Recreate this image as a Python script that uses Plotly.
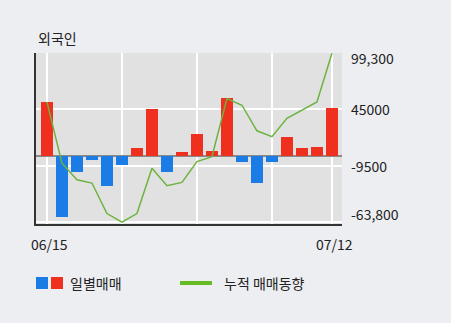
import plotly.graph_objects as go

dates = ["06/15", "06/16", "06/19", "06/20", "06/21", "06/22", "06/23", "06/26", "06/27", "06/28",
         "06/29", "06/30", "07/03", "07/04", "07/05", "07/06", "07/07", "07/10", "07/11", "07/12"]
daily = [52700, -58900, -15200, -4300, -29000, -8200, 7500, 45600, -15600, 3600,
         21600, 5300, 56100, -6000, -26100, -5300, 18700, 8200, 9100, 46900]
cumulative = [52300, -6900, -22900, -26100, -55600, -63800, -55600, -11700, -28700, -25500,
              -5400, -600, 55600, 49100, 24400, 18700, 36400, 44300, 52300, 99300]
y_ticks = [99300, 45000, -9500, -63800]
y_tick_text = ["99,300", "45000", "-9500", "-63,800"]
x_grid = [dates[0], dates[5], dates[10], dates[15], dates[19]]
x_labels = [dates[0], dates[-1]]

W, H = 451, 323
L, R, T, B = 36, 109, 53, 99
PW, PH = W - L - R, H - T - B

def px(x):
    return (x - L) / PW

def py(y):
    return (H - B - y) / PH

RED = "#f0301e"
BLUE = "#1c7ce6"
GREEN = "#6db33f"
FONT = "Noto Sans CJK KR, DejaVu Sans, sans-serif"
FS = 14

fig = go.Figure()
fig.add_trace(go.Bar(
    x=dates, y=daily,
    marker=dict(color=[RED if v >= 0 else BLUE for v in daily], line=dict(width=0)),
    width=0.82,
))
fig.add_trace(go.Scatter(
    x=dates, y=cumulative, mode="lines",
    line=dict(color=GREEN, width=1.5),
))

annotations = []
for v, t in zip(y_ticks, y_tick_text):
    shift = 0
    if v == y_ticks[0]:
        shift = -5
    elif v == y_ticks[-1]:
        shift = 8
    annotations.append(dict(
        x=1, xref="paper", y=v, yref="y", text=t, showarrow=False,
        xanchor="left", yanchor="middle", xshift=7, yshift=shift,
        font=dict(family=FONT, size=FS, color="#222222"),
    ))
for d in x_labels:
    annotations.append(dict(
        x=d, xref="x", y=0, yref="paper", text=d, showarrow=False,
        xanchor="center", yanchor="top", yshift=-8, xshift=3,
        font=dict(family=FONT, size=FS, color="#222222"),
    ))
annotations.append(dict(
    x=px(36), xref="paper", y=py(38), yref="paper", text="외국인", showarrow=False,
    xanchor="left", yanchor="middle",
    font=dict(family=FONT, size=FS, color="#222222"),
))
annotations.append(dict(
    x=px(68), xref="paper", y=py(283), yref="paper", text="일별매매", showarrow=False,
    xanchor="left", yanchor="middle",
    font=dict(family=FONT, size=FS, color="#222222"),
))
annotations.append(dict(
    x=px(222), xref="paper", y=py(283), yref="paper", text="누적 매매동향", showarrow=False,
    xanchor="left", yanchor="middle",
    font=dict(family=FONT, size=FS, color="#222222"),
))

shapes = [
    dict(type="rect", xref="paper", yref="paper", x0=px(36), x1=px(48), y0=py(289), y1=py(277),
         fillcolor=BLUE, line=dict(width=0)),
    dict(type="rect", xref="paper", yref="paper", x0=px(51), x1=px(63), y0=py(289), y1=py(277),
         fillcolor=RED, line=dict(width=0)),
    dict(type="line", xref="paper", yref="paper", x0=px(180), x1=px(212), y0=py(283), y1=py(283),
         line=dict(color="#66bb22", width=4)),
]

fig.update_layout(
    width=W, height=H,
    margin=dict(l=L, r=R, t=T, b=B, pad=0),
    paper_bgcolor="#edeef2",
    plot_bgcolor="#e1e1e1",
    showlegend=False,
    bargap=0,
    annotations=annotations,
    shapes=shapes,
    xaxis=dict(
        type="category", range=[-0.73, 19.67],
        tickmode="array", tickvals=x_grid, showticklabels=False, ticks="",
        showgrid=True, gridcolor="#ffffff", gridwidth=1.5,
        showline=True, linecolor="#333333", linewidth=2,
        zeroline=False, fixedrange=True,
    ),
    yaxis=dict(
        range=[-65700, 99600],
        tickmode="array", tickvals=y_ticks, showticklabels=False, ticks="",
        showgrid=True, gridcolor="#ffffff", gridwidth=1.5,
        zeroline=True, zerolinecolor="#8a8a8a", zerolinewidth=2,
        showline=True, linecolor="#333333", linewidth=2,
        fixedrange=True,
    ),
)

fig.write_html("out.html")
